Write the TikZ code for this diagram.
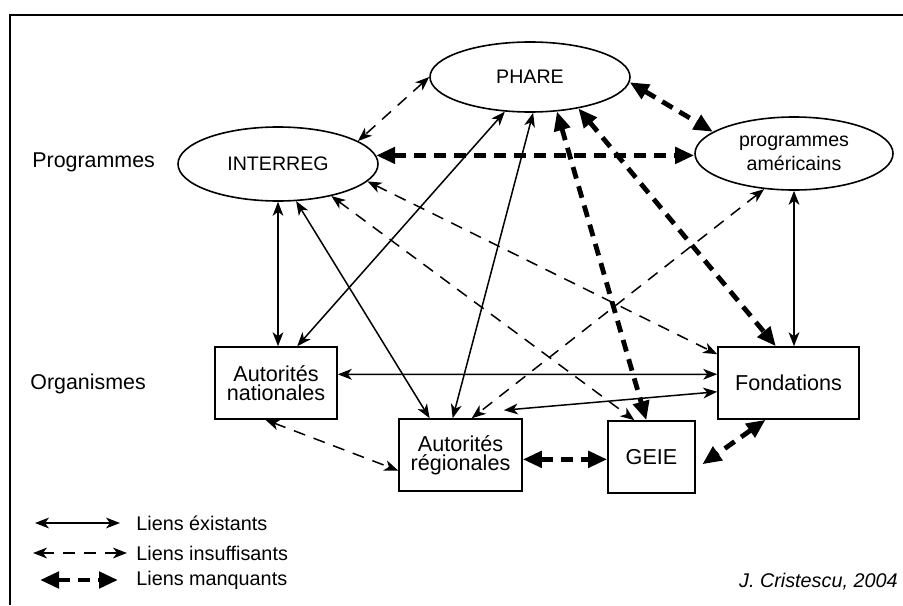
\documentclass[tikz,border=0pt]{standalone}
\usepackage{fontspec}
\setmainfont{Liberation Sans}
\usetikzlibrary{shapes.geometric,arrows.meta,calc}

\begin{document}
\begin{tikzpicture}[x=0.5pt, y=-0.5pt,
  prog/.style={draw, ellipse, line width=0.8pt, inner sep=0pt, align=center, font=\fontsize{9.8}{12}\selectfont},
  org/.style={draw, rectangle, line width=0.8pt, inner sep=0pt, minimum height=36pt, align=center, font=\fontsize{10.8}{9.3}\selectfont},
  lbl/.style={inner sep=0pt, font=\fontsize{10.7}{12}\selectfont},
  leg/.style={inner sep=0pt, font=\fontsize{9.9}{12}\selectfont},
  exist/.style={line width=0.75pt, {Stealth[length=7pt,width=5.4pt,inset=2pt]}-{Stealth[length=7pt,width=5.4pt,inset=2pt]}},
  insuf/.style={exist, dash pattern=on 6pt off 4.5pt},
  manq/.style={line width=2.4pt, dash pattern=on 6pt off 4pt, {Triangle[length=9.5pt,width=8pt]}-{Triangle[length=9.5pt,width=8pt]}}
]
  \useasboundingbox (0,0) rectangle (903,605);
  \draw[line width=1pt] (903,15) -- (10,15) -- (10,605);

  \node[lbl, anchor=west] (prg) at (32,162) {Programmes};
  \node[lbl, anchor=west] (orgs) at (30,384) {Organismes};

  \node[prog, minimum width=100pt, minimum height=35pt] (phare) at (530,77) {PHARE};
  \node[prog, minimum width=100pt, minimum height=37pt] (interreg) at (278,164) {INTERREG};
  \node[prog, minimum width=99pt, minimum height=36.5pt] (amer) at (794,153.5) {programmes\\américains};

  \node[org, minimum width=61pt] (nat) at (276,383) {Autorités\\nationales};
  \node[org, minimum width=61.5pt] (reg) at (460.5,455) {Autorités\\régionales};
  \node[org, minimum width=43.5pt] (geie) at (651.5,457) {GEIE};
  \node[org, minimum width=70.5pt] (fond) at (788.5,383) {Fondations};

  \draw[exist] (interreg.south) -- (interreg.south |- nat.north);
  \draw[exist] (phare.234) -- (nat.60);
  \draw[exist] (interreg.-64) -- (reg.130);
  \draw[exist] (phare.-85) -- (reg.102);
  \draw[exist] (nat.8) -- (fond.173);
  \draw[exist] (fond.187) -- ([shift={(-19,-8)}]reg.north east);
  \draw[exist] (amer.south) -- (amer.south |- fond.north);

  \draw[insuf] (phare.west) -- (interreg.16);
  \draw[insuf] (interreg.-11) -- (fond.158);
  \draw[insuf] (interreg.-31) -- (geie.115);
  \draw[insuf] (amer.230) -- (reg.73);
  \draw[insuf] (nat.-106) -- (reg.194);

  \draw[manq] (phare.-3) -- (amer.165);
  \draw[manq] (interreg.5) -- (interreg.5 -| amer.west);
  \draw[manq] (phare.-52) -- (geie.98);
  \draw[manq] (phare.-33) -- (fond.109);
  \draw[manq] (reg.-4) -- (reg.-4 -| geie.west);
  \draw[manq, shorten >=4pt] (fond.-122) -- (geie.-15);

  \node[leg, anchor=west] (l1) at (136,523) {Liens éxistants};
  \node[leg, anchor=west] (l2) at (136,553) {Liens insuffisants};
  \node[leg, anchor=west] (l3) at (136,580) {Liens manquants};
  \coordinate (e1) at (35,523);
  \coordinate (e2) at (33,553);
  \coordinate (e3) at (40,580);
  \draw[exist] (e1) -- ([xshift=-8pt]l1.west);
  \draw[insuf] (e2) -- ([xshift=-4.5pt]l2.west);
  \draw[manq] (e3) -- ([xshift=-9pt]l3.west);

  \node[leg, anchor=east, font=\fontsize{9.9}{12}\selectfont\itshape] (cred) at (898,582) {J. Cristescu, 2004};
\end{tikzpicture}
\end{document}
